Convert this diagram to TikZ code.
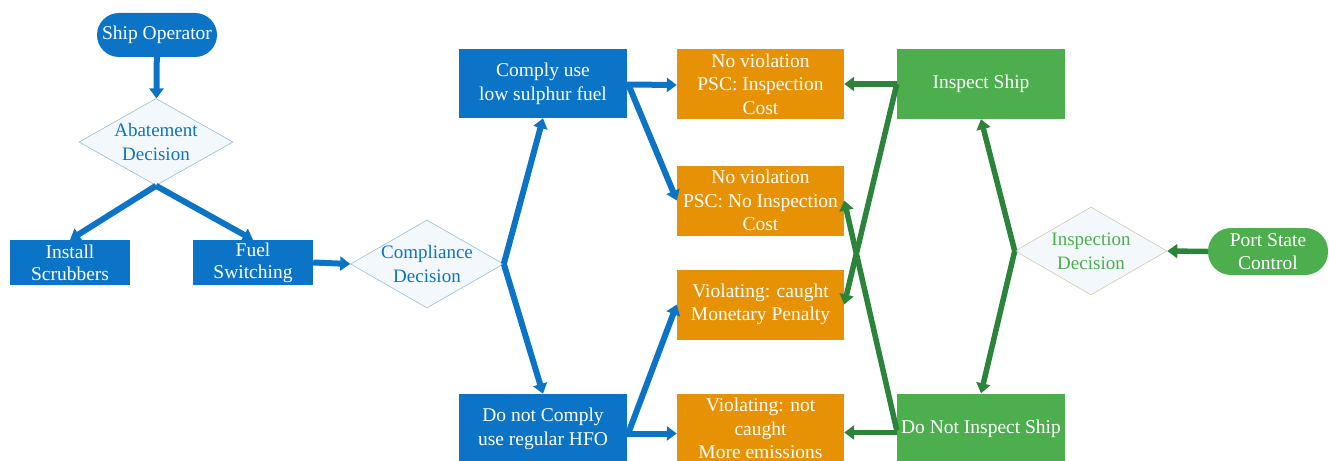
\documentclass[tikz,border=0pt]{standalone}
\usepackage{fontspec}
\setmainfont{Liberation Serif}
\usetikzlibrary{shapes.geometric,arrows.meta}
\definecolor{cblue}{RGB}{12,116,198}
\definecolor{corange}{RGB}{231,145,4}
\definecolor{cgreen}{RGB}{77,174,78}
\definecolor{cdgreen}{RGB}{44,132,58}
\definecolor{dfill}{RGB}{243,248,252}
\definecolor{dblue}{RGB}{150,188,222}
\definecolor{dtan}{RGB}{205,205,170}
\begin{document}
\begin{tikzpicture}[x=1pt,y=-1pt,
  font=\fontsize{19.5}{23.5}\selectfont,
  box/.style={rectangle, inner sep=0pt, text=white, align=center},
  bbox/.style={box, fill=cblue, minimum width=168pt, minimum height=69pt, font=\fontsize{19.5}{24}\selectfont},
  sbox/.style={box, fill=cblue, minimum width=120pt, minimum height=45pt, font=\fontsize{19.5}{22}\selectfont},
  obox/.style={box, fill=corange, minimum width=167pt, minimum height=70pt},
  gbox/.style={box, fill=cgreen, minimum width=168pt, minimum height=70pt},
  pillb/.style={box, fill=cblue, rounded corners=22pt, minimum width=120pt, minimum height=44pt},
  pillg/.style={box, fill=cgreen, rounded corners=23pt, minimum width=120pt, minimum height=47pt, font=\fontsize{19.5}{23}\selectfont},
  dia/.style={diamond, inner sep=0pt, fill=dfill, line width=0.6pt},
  dtext/.style={align=center, font=\fontsize{19}{24}\selectfont},
  barrow/.style={draw=cblue, line width=6pt, -{Triangle[length=10pt,width=14pt]}, fill=cblue},
  garrow/.style={draw=cdgreen, line width=5.5pt, -{Triangle[length=10pt,width=14pt]}, fill=cdgreen}
]
\useasboundingbox (0,0) rectangle (1329,460);
\clip (0,0) rectangle (1329,460);

% left part
\node[pillb] (so) at (157,35) {Ship Operator};
\node[dia, draw=dblue, minimum width=154pt, minimum height=87pt] (ad) at (156,142) {};
\node[dtext, text=cblue] (adt) at (ad) {Abatement\\Decision};
\node[sbox] (is) at (70,262.5) {Install\\Scrubbers};
\node[sbox] (fs) at (253,262.5) {Fuel\\Switching};
\node[dia, draw=dblue, minimum width=153pt, minimum height=88pt] (cd) at (427,264) {};
\node[dtext, text=cblue] (cdt) at (cd) {Compliance\\Decision};
\node[bbox] (cly) at (543,83.5) {Comply use\\low sulphur fuel};
\node[bbox] (dnc) at (543,428.5) {Do not Comply\\use regular HFO};

% outcomes
\node[obox] (o1) at (760.5,84) {No violation\\PSC: Inspection\\Cost};
\node[obox] (o2) at (760.5,200.5) {No violation\\PSC: No Inspection\\Cost};
\node[obox] (o3) at (760.5,304.5) {Violating: caught\\Monetary Penalty};
\node[obox] (o4) at (760.5,428.5) {Violating: not\\caught\\More emissions};

% right part
\node[gbox] (isp) at (981,84) {Inspect Ship};
\node[gbox] (dni) at (981,428.5) {Do Not Inspect Ship};
\node[dia, draw=dtan, minimum width=152pt, minimum height=88pt] (id) at (1091,251) {};
\node[dtext, text=cgreen] (idt) at (id) {Inspection\\Decision};
\node[pillg] (psc) at (1268,251.5) {Port State\\Control};

% blue connectors
\draw[barrow] (so) -- (ad);
\draw[barrow] (ad.south) -- (is.north);
\draw[barrow] (ad.south) -- (fs.north);
\draw[barrow] (fs.east) -- (cd.west);
\draw[barrow] (cd.east) -- (cly.south);
\draw[barrow] (cd.east) -- (dnc.north);
\draw[barrow] ([yshift=-1pt]cly.east) -- ([yshift=-1pt]o1.west);
\draw[barrow] ([xshift=2pt,yshift=-3pt]cly.east) -- (o2.west);
\draw[barrow] ([xshift=1pt,yshift=-5pt]dnc.east) -- (o3.west);
\draw[barrow] ([yshift=-5pt]dnc.east) -- ([yshift=-5pt]o4.west);

% green connectors
\draw[garrow] (isp.west) -- (o1.east);
\draw[garrow] (isp.west) -- (o3.east);
\draw[garrow] ([yshift=-4pt]dni.west) -- ([yshift=-4pt]o4.east);
\draw[garrow] ([yshift=-2pt]dni.west) -- (o2.east);
\draw[garrow] (id.west) -- (isp.south);
\draw[garrow] (id.west) -- (dni.north);
\draw[garrow] (psc.west) -- (id.east);
\end{tikzpicture}
\end{document}
